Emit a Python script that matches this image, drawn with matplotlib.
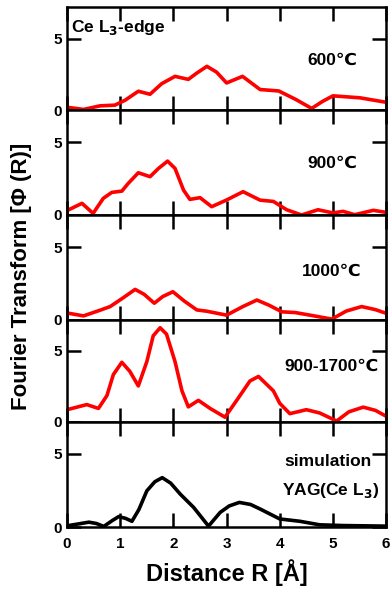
import matplotlib.pyplot as plt

plt.rcParams['font.family'] = ['Liberation Sans', 'DejaVu Sans']
plt.rcParams['font.weight'] = 'bold'

# panel 1: 600 C
x1 = [0.02, 0.31, 0.62, 0.9, 1.09, 1.34, 1.56, 1.78, 2.03, 2.28, 2.44, 2.63, 2.81, 3.0, 3.3, 3.63, 3.98,
      4.3, 4.6, 4.8, 5.0, 5.51, 6.0]
y1 = [0.19, 0.05, 0.3, 0.35, 0.69, 1.32, 1.11, 1.85, 2.36, 2.15, 2.59, 3.06, 2.66, 1.9, 2.36, 1.44, 1.34,
      0.75, 0.12, 0.6, 1.0, 0.86, 0.55]
# panel 2: 900 C
x2 = [0.02, 0.28, 0.49, 0.68, 0.84, 1.03, 1.15, 1.34, 1.56, 1.72, 1.89, 2.03, 2.19, 2.31, 2.5, 2.72, 3.0,
      3.31, 3.63, 3.88, 4.13, 4.41, 4.72, 5.0, 5.19, 5.41, 5.76, 6.0]
y2 = [0.34, 0.8, 0.11, 1.14, 1.55, 1.64, 2.17, 2.9, 2.63, 3.2, 3.7, 3.2, 1.71, 1.07, 1.19, 0.57, 1.03,
      1.6, 1.02, 0.93, 0.36, 0.0, 0.36, 0.14, 0.25, 0.02, 0.32, 0.18]
# panel 3: 1000 C
x3 = [0.03, 0.31, 0.62, 0.81, 1.05, 1.28, 1.45, 1.64, 1.8, 1.99, 2.2, 2.44, 2.63, 3.0, 3.3, 3.57, 3.8,
      4.04, 4.29, 4.6, 4.98, 5.25, 5.54, 5.8, 6.0]
y3 = [0.45, 0.27, 0.66, 0.91, 1.5, 2.09, 1.75, 1.14, 1.6, 1.93, 1.3, 0.68, 0.59, 0.32, 0.9, 1.36, 1.0,
      0.55, 0.5, 0.3, 0.05, 0.6, 0.91, 0.7, 0.45]
# panel 4: 900-1700 C
x4 = [0.02, 0.37, 0.59, 0.75, 0.87, 1.03, 1.18, 1.34, 1.5, 1.62, 1.75, 1.87, 2.03, 2.16, 2.28, 2.47, 2.69,
      2.97, 3.19, 3.44, 3.6, 3.88, 4.0, 4.19, 4.5, 4.75, 5.07, 5.3, 5.57, 5.8, 6.0]
y4 = [0.87, 1.21, 0.94, 1.85, 3.33, 4.2, 3.56, 2.53, 4.25, 6.07, 6.64, 6.19, 4.25, 2.19, 1.05, 1.51, 0.94,
      0.32, 1.51, 2.88, 3.2, 2.18, 1.3, 0.57, 0.85, 0.62, 0.05, 0.7, 1.03, 0.8, 0.39]
# panel 5: simulation
x5 = [0.03, 0.41, 0.55, 0.69, 0.85, 0.97, 1.1, 1.22, 1.35, 1.5, 1.65, 1.79, 1.95, 2.13, 2.38, 2.66, 2.88,
      3.05, 3.24, 3.45, 3.63, 4.0, 4.38, 4.75, 5.19, 6.0]
y5 = [0.11, 0.34, 0.25, 0.05, 0.45, 0.72, 0.6, 0.4, 1.2, 2.48, 3.1, 3.38, 3.0, 2.25, 1.35, 0.07, 1.01,
      1.45, 1.69, 1.55, 1.24, 0.56, 0.4, 0.16, 0.11, 0.07]

series = [(x1, y1, 'red'), (x2, y2, 'red'), (x3, y3, 'red'), (x4, y4, 'red'), (x5, y5, 'black')]
labels = [('600\u2103', 3.5), ('900\u2103', 3.56), ('1000\u2103', 3.3), ('900-1700\u2103', 3.9)]

fig = plt.figure(figsize=(3.9, 5.89), dpi=100)
tops = [0.988, 0.813, 0.635, 0.457, 0.284, 0.105]
axes = []
for i in range(5):
    ax = fig.add_axes([0.172, tops[i + 1], 0.818, tops[i] - tops[i + 1]])
    x, y, c = series[i]
    ax.plot(x, y, color=c, lw=2.6, solid_joinstyle='round', solid_capstyle='round')
    ax.set_xlim(0, 6)
    ax.set_ylim(0, 7.2)
    ax.set_yticks([0, 5])
    ax.set_xticks(range(7))
    ax.tick_params(direction='in', length=10, width=1.8, top=True, right=True, labelsize=11)
    ax.tick_params(axis='x', pad=7)
    for s in ax.spines.values():
        s.set_linewidth(1.8)
    if i < 4:
        ax.tick_params(labelbottom=False)
        ax.text(4.98, labels[i][1], labels[i][0], ha='center', va='center', fontsize=12.5, fontweight='bold')
    axes.append(ax)

axes[0].text(0.08, 5.76, 'Ce L$_\\mathbf{3}$-edge', ha='left', va='center', fontsize=12.5, fontweight='bold')
axes[4].text(4.9, 4.45, 'simulation', ha='center', va='center', fontsize=12.5, fontweight='bold')
axes[4].text(4.95, 2.5, 'YAG(Ce L$_\\mathbf{3}$)', ha='center', va='center', fontsize=12.5, fontweight='bold')
axes[4].set_xlabel('Distance R [\u00c5]', fontsize=17, fontweight='bold', labelpad=6)
fig.text(0.056, 0.53, 'Fourier Transform [\u03a6 (R)]', rotation=90, ha='center', va='center',
         fontsize=16, fontweight='bold')

fig.savefig('out.png', dpi=100)
